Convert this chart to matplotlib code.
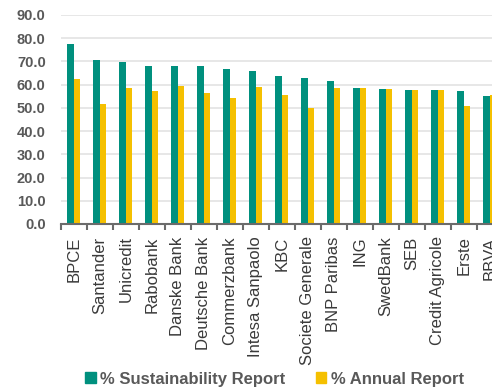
import numpy as np
import matplotlib.pyplot as plt
from matplotlib.patches import Patch

banks = ['BPCE', 'Santander', 'Unicredit', 'Rabobank', 'Danske Bank', 'Deutsche Bank',
         'Commerzbank', 'Intesa Sanpaolo', 'KBC', 'Societe Generale', 'BNP Paribas',
         'ING', 'SwedBank', 'SEB', 'Credit Agricole', 'Erste', 'BBVA']
sustain = [77.4, 70.5, 69.8, 68.2, 67.9, 67.9, 66.8, 65.9, 63.6, 63.0, 61.5,
           58.7, 58.0, 57.7, 57.7, 57.3, 55.0]
annual = [62.6, 51.7, 58.7, 57.3, 59.4, 56.5, 54.3, 58.9, 55.4, 49.8, 58.4,
          58.7, 58.0, 57.7, 57.7, 50.8, 55.7]

teal = '#00907E'
yellow = '#F5C000'
grey = '#595959'

plt.rcParams['font.family'] = ['Liberation Sans', 'DejaVu Sans']

fig = plt.figure(figsize=(4.92, 3.89), dpi=100)
ax = fig.add_axes([0.124, 0.4242, 0.876, 0.5373])

x = np.arange(len(banks))
w = 0.24
ax.bar(x - 0.135, sustain, w, color=teal, zorder=3)
ax.bar(x + 0.125, annual, w, color=yellow, zorder=3)

ax.set_yticks(np.arange(0, 91, 10))
ax.set_yticklabels([f'{v:.1f}' for v in np.arange(0, 91, 10)],
                   fontsize=10.5, fontweight='bold', color=grey)
ax.grid(axis='y', color='#e3e3e3', linewidth=1.2, zorder=0)

ax.set_xticks(x)
ax.set_xticklabels(banks, rotation=90, fontsize=12, color='#3a3a3a')
ax.set_xticks(np.arange(-0.5, len(banks), 1), minor=True)
ax.tick_params(axis='x', which='major', length=0, pad=9)
ax.tick_params(axis='x', which='minor', length=4, width=1.5, color='#6b6b6b')
ax.tick_params(axis='y', length=0, pad=11)
# limits after the ticks, otherwise set_xticks widens them again
ax.set_ylim(0, 90)
ax.set_xlim(-0.5, 16.08)

for s in ['top', 'right', 'left']:
    ax.spines[s].set_visible(False)
ax.spines['bottom'].set_color('#6b6b6b')
ax.spines['bottom'].set_linewidth(1.5)
ax.spines['bottom'].set_zorder(4)

handles = [Patch(color=teal, label='% Sustainability Report'),
           Patch(color=yellow, label='% Annual Report')]
leg = fig.legend(handles=handles, loc='center', bbox_to_anchor=(0.558, 0.025), ncol=2,
                 frameon=False, handlelength=0.65, handleheight=0.65, handletextpad=0.25,
                 columnspacing=1.8, prop={'size': 12, 'weight': 'bold'})
for t in leg.get_texts():
    t.set_color(grey)

fig.savefig('out.png', dpi=100)
